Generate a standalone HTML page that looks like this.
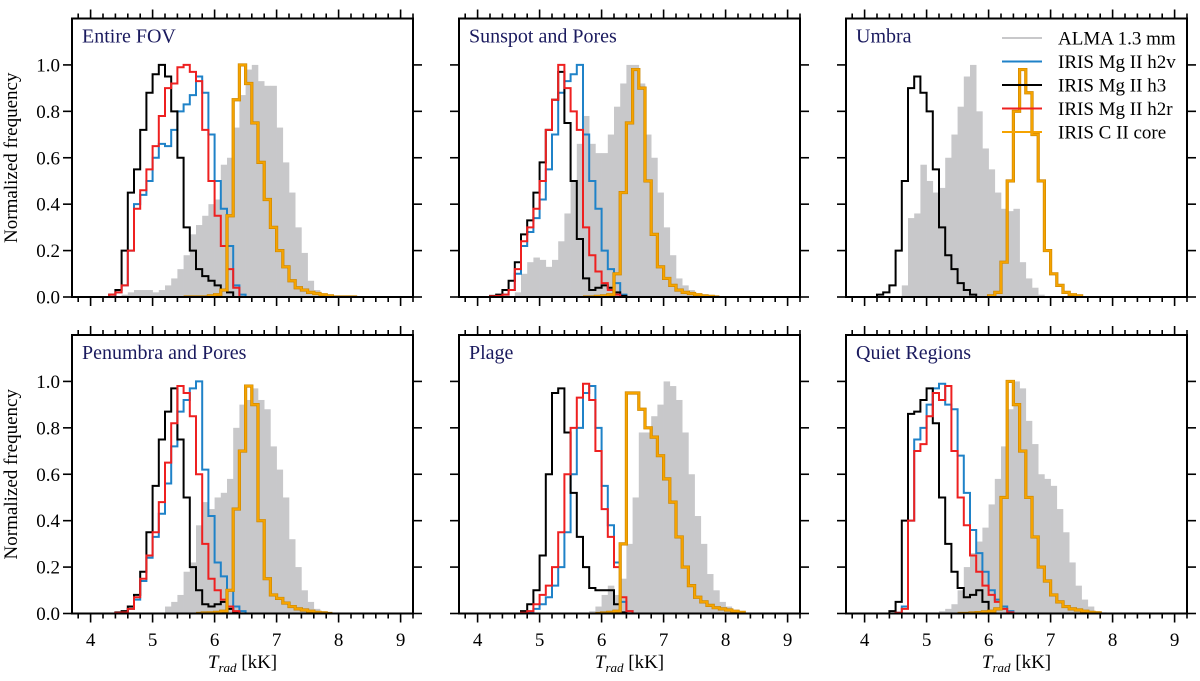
<!DOCTYPE html>
<html><head><meta charset="utf-8"><style>
html,body{margin:0;padding:0;background:#fff;}
svg{display:block;}
svg text{font-family:"Liberation Serif","DejaVu Serif",serif;}
</style></head><body>
<svg id="chart" width="1200" height="681" viewBox="0 0 1200 681" xmlns="http://www.w3.org/2000/svg" font-family="'Liberation Serif', serif"></svg>
<script>
// ---- data (bin width 0.1 kK; each series starts at its *Start value) ----
const binWidth = 0.1;
const panelTitles = ["Entire FOV","Sunspot and Pores","Umbra","Penumbra and Pores","Plage","Quiet Regions"];
const xTickLabels = ["4","5","6","7","8","9"];
const yTickLabels = ["0.0","0.2","0.4","0.6","0.8","1.0"];
const legendLabels = ["ALMA 1.3 mm","IRIS Mg II h2v","IRIS Mg II h3","IRIS Mg II h2r","IRIS C II core"];

// Panel 1: Entire FOV
const fovAlmaStart = 4.5;
const fovAlma = [0.01,0.02,0.03,0.03,0.03,0.02,0.03,0.05,0.08,0.12,0.18,0.27,0.31,0.35,0.4,0.42,0.57,0.6,0.73,0.87,0.98,1.0,0.93,0.91,0.91,0.73,0.58,0.45,0.3,0.19,0.07,0.03,0.01,0.005];
const fovH2vStart = 4.3;
const fovH2v = [0.0,0.02,0.05,0.2,0.4,0.44,0.5,0.6,0.66,0.65,0.72,0.8,0.83,0.87,0.95,0.88,0.7,0.5,0.38,0.22,0.05,0.01];
const fovH3Start = 4.3;
const fovH3 = [0.01,0.03,0.2,0.45,0.55,0.72,0.88,0.96,1.0,0.95,0.8,0.6,0.3,0.2,0.12,0.09,0.07,0.05,0.03,0.02];
const fovH2rStart = 4.3;
const fovH2r = [0.01,0.02,0.05,0.2,0.38,0.46,0.55,0.65,0.78,0.9,0.92,0.99,1.0,0.97,0.93,0.72,0.5,0.35,0.22,0.12,0.04];
const fovCiiStart = 5.5;
const fovCii = [0,0,0,0,0.005,0.01,0.03,0.35,0.85,1.0,0.92,0.75,0.58,0.42,0.3,0.2,0.13,0.07,0.04,0.03,0.02,0.015,0.01,0.005,0,0,0,0];

// Panel 2: Sunspot and Pores
const spotAlmaStart = 4.6;
const spotAlma = [0.02,0.1,0.15,0.17,0.16,0.13,0.16,0.24,0.36,0.5,0.66,0.78,0.66,0.62,0.62,0.7,0.82,0.92,1.0,1.0,0.92,0.7,0.6,0.45,0.3,0.18,0.08,0.05,0.03,0.015,0.005];
const spotH2vStart = 4.2;
const spotH2v = [0.003,0.005,0.01,0.03,0.1,0.22,0.28,0.34,0.42,0.55,0.7,0.88,0.93,0.96,1.0,0.7,0.5,0.38,0.2,0.12,0.06,0.01];
const spotH3Start = 4.2;
const spotH3 = [0.005,0.01,0.03,0.07,0.15,0.27,0.33,0.45,0.58,0.72,0.85,0.97,0.75,0.5,0.25,0.08,0.03,0.04,0.05,0.04,0.02,0.005];
const spotH2rStart = 4.2;
const spotH2r = [0.003,0.005,0.01,0.03,0.12,0.24,0.3,0.38,0.5,0.72,0.85,1.0,0.9,0.8,0.72,0.3,0.18,0.11,0.06,0.03,0.01];
const spotCiiStart = 5.7;
const spotCii = [0,0,0.003,0.005,0.01,0.1,0.45,0.75,0.98,0.9,0.5,0.27,0.13,0.08,0.05,0.03,0.02,0.015,0.01,0.005,0.003,0];

// Panel 3: Umbra
const umbraAlmaStart = 4.6;
const umbraAlma = [0.05,0.34,0.36,0.57,0.5,0.45,0.47,0.6,0.7,0.82,0.95,1.0,0.8,0.64,0.55,0.45,0.38,0.37,0.38,0.15,0.08,0.04,0.01];
const umbraH3Start = 4.2;
const umbraH3 = [0.01,0.02,0.05,0.2,0.5,0.9,0.95,0.88,0.8,0.55,0.3,0.18,0.12,0.06,0.03,0.01];
const umbraCiiStart = 6.0;
const umbraCii = [0.005,0.02,0.15,0.5,0.8,0.98,0.88,0.7,0.5,0.2,0.1,0.05,0.02,0.01,0.005];

// Panel 4: Penumbra and Pores
const penAlmaStart = 5.2;
const penAlma = [0.03,0.05,0.08,0.18,0.22,0.38,0.48,0.45,0.5,0.52,0.58,0.8,0.9,0.92,0.97,0.92,0.88,0.72,0.62,0.5,0.32,0.2,0.1,0.05,0.02,0.01];
const penH2vStart = 4.4;
const penH2v = [0.003,0.005,0.02,0.06,0.14,0.24,0.33,0.43,0.56,0.72,0.87,0.92,0.97,1.0,0.62,0.42,0.22,0.16,0.1,0.03,0.01];
const penH3Start = 4.4;
const penH3 = [0.005,0.01,0.03,0.08,0.18,0.35,0.55,0.75,0.87,0.97,0.75,0.5,0.2,0.1,0.04,0.03,0.04,0.05,0.02,0.005];
const penH2rStart = 4.4;
const penH2r = [0.003,0.005,0.02,0.07,0.15,0.25,0.35,0.48,0.65,0.82,0.98,0.95,0.85,0.6,0.3,0.15,0.1,0.06,0.03,0.01];
const penCiiStart = 5.7;
const penCii = [0,0.002,0.003,0.005,0.01,0.1,0.45,0.7,0.98,0.9,0.4,0.15,0.08,0.065,0.045,0.03,0.02,0.015,0.01,0.005,0.003,0];

// Panel 5: Plage
const plageAlmaStart = 5.8;
const plageAlma = [0.01,0.03,0.08,0.12,0.08,0.15,0.3,0.5,0.78,0.78,0.85,0.9,1.0,0.98,0.92,0.78,0.6,0.42,0.3,0.17,0.1,0.05,0.03,0.015,0.005];
const plageH2vStart = 4.7;
const plageH2v = [0.002,0.005,0.02,0.04,0.07,0.12,0.2,0.35,0.6,0.8,0.95,0.98,0.8,0.55,0.38,0.22,0.05,0.01];
const plageH3Start = 4.7;
const plageH3 = [0.01,0.04,0.1,0.25,0.6,0.95,0.97,0.78,0.52,0.33,0.2,0.11,0.1,0.1,0.1,0.04,0.005];
const plageH2rStart = 4.7;
const plageH2r = [0.003,0.01,0.04,0.08,0.12,0.2,0.35,0.6,0.8,0.93,0.99,0.92,0.7,0.45,0.33,0.2,0.07,0.01];
const plageCiiStart = 5.9;
const plageCii = [0,0.002,0.005,0.01,0.3,0.95,0.95,0.88,0.8,0.76,0.68,0.58,0.48,0.33,0.2,0.12,0.07,0.05,0.035,0.025,0.02,0.015,0.01,0.005];

// Panel 6: Quiet Regions
const quietAlmaStart = 5.2;
const quietAlma = [0.01,0.02,0.04,0.1,0.2,0.26,0.31,0.37,0.47,0.58,0.72,0.88,1.0,0.97,0.83,0.73,0.6,0.58,0.55,0.45,0.35,0.22,0.12,0.06,0.03,0.01,0.005];
const quietH2vStart = 4.4;
const quietH2v = [0,0.003,0.03,0.4,0.75,0.8,0.9,0.97,0.99,0.9,0.88,0.68,0.52,0.36,0.26,0.18,0.1,0.06,0.03,0.01];
const quietH3Start = 4.4;
const quietH3 = [0.01,0.05,0.4,0.86,0.87,0.92,0.97,0.82,0.5,0.3,0.18,0.11,0.07,0.08,0.1,0.05,0.01];
const quietH2rStart = 4.4;
const quietH2r = [0,0.003,0.02,0.4,0.7,0.73,0.85,0.95,0.92,0.98,0.7,0.5,0.38,0.25,0.18,0.12,0.08,0.05,0.02,0.005];
const quietCiiStart = 5.5;
const quietCii = [0,0,0.002,0.004,0.007,0.01,0.02,0.5,1.0,0.9,0.7,0.5,0.33,0.2,0.14,0.08,0.05,0.03,0.02,0.015,0.01,0.005,0.003];

// ---- layout ----
const NS = "http://www.w3.org/2000/svg";
const svg = document.getElementById('chart');
const FONT = "'Liberation Serif', 'DejaVu Serif', serif";
const xMin = 3.7, xMax = 9.2, yMin = 0, yMax = 1.2;
const colLeft = [72, 459, 846], panelW = 341;
const rowTop = [18.5, 335], panelH = 278.5;
const colors = {alma:"#c8c8ca", h2v:"#1f82c8", h3:"#000000", h2r:"#ee2020", cii:"#f5a300"};

function mk(tag, attrs, parent){
  const e = document.createElementNS(NS, tag);
  for (const k in attrs) e.setAttribute(k, attrs[k]);
  if (tag === 'text') e.setAttribute('font-family', FONT);
  (parent || svg).appendChild(e);
  return e;
}

const panels = [
  {alma:[fovAlmaStart,fovAlma], h2v:[fovH2vStart,fovH2v], h3:[fovH3Start,fovH3], h2r:[fovH2rStart,fovH2r], cii:[fovCiiStart,fovCii]},
  {alma:[spotAlmaStart,spotAlma], h2v:[spotH2vStart,spotH2v], h3:[spotH3Start,spotH3], h2r:[spotH2rStart,spotH2r], cii:[spotCiiStart,spotCii]},
  {alma:[umbraAlmaStart,umbraAlma], h3:[umbraH3Start,umbraH3], cii:[umbraCiiStart,umbraCii]},
  {alma:[penAlmaStart,penAlma], h2v:[penH2vStart,penH2v], h3:[penH3Start,penH3], h2r:[penH2rStart,penH2r], cii:[penCiiStart,penCii]},
  {alma:[plageAlmaStart,plageAlma], h2v:[plageH2vStart,plageH2v], h3:[plageH3Start,plageH3], h2r:[plageH2rStart,plageH2r], cii:[plageCiiStart,plageCii]},
  {alma:[quietAlmaStart,quietAlma], h2v:[quietH2vStart,quietH2v], h3:[quietH3Start,quietH3], h2r:[quietH2rStart,quietH2r], cii:[quietCiiStart,quietCii]}
];

panels.forEach((p, idx) => {
  const col = idx % 3, row = Math.floor(idx / 3);
  const L = colLeft[col], T = rowTop[row], R = L + panelW, B = T + panelH;
  const xs = v => L + (v - xMin) / (xMax - xMin) * panelW;
  const ys = v => B - (v - yMin) / (yMax - yMin) * panelH;
  const g = mk('g', {});
  
  
  const clipId = 'clip' + idx;
  const cp = mk('clipPath', {id: clipId}, g);
  mk('rect', {x: L, y: T, width: panelW, height: panelH}, cp);
  const plot = mk('g', {'clip-path': 'url(#' + clipId + ')'}, g);

  // ALMA bars
  const [as, av] = p.alma;
  av.forEach((v, i) => {
    const x0 = xs(as + i * binWidth), x1 = xs(as + (i + 1) * binWidth);
    const r = mk('rect', {x: x0, y: ys(v), width: x1 - x0 + 0.3, height: ys(0) - ys(v), fill: colors.alma}, plot);
    
    
  });
  // step lines
  ['h2v','h3','h2r','cii'].forEach(key => {
    if (!p[key]) return;
    const [s, vals] = p[key];
    let d = 'M' + xs(s) + ',' + ys(0);
    vals.forEach((v, i) => {
      d += ' L' + xs(s + i * binWidth) + ',' + ys(v) + ' L' + xs(s + (i + 1) * binWidth) + ',' + ys(v);
    });
    d += ' L' + xs(s + vals.length * binWidth) + ',' + ys(0);
    if (key === 'cii') {
      mk('path', {d: d, fill: 'none', stroke: '#c98400', 'stroke-width': 3.2, 'stroke-linejoin': 'miter'}, plot);
    }
    const path = mk('path', {d: d, fill: 'none', stroke: colors[key], 'stroke-width': 2, 'stroke-linejoin': 'miter'}, plot);
    
    
  });

  // frame
  const fr = mk('rect', {x: L, y: T, width: panelW, height: panelH, fill: 'none', stroke: '#000', 'stroke-width': 2}, g);
  
  

  // x ticks (top & bottom, outward)
  for (let k = 0; k <= 30; k++) {
    const t = 3.8 + k * 0.2;
    if (t > xMax + 1e-6) break;
    const major = Math.abs(t - Math.round(t)) < 1e-6;
    const len = major ? 9 : 5;
    const x = xs(t);
    mk('line', {x1: x, x2: x, y1: B, y2: B + len, stroke: '#000', 'stroke-width': 1.6}, g);
    mk('line', {x1: x, x2: x, y1: T, y2: T - len, stroke: '#000', 'stroke-width': 1.6}, g);
  }
  // y ticks (left & right, outward)
  yTickLabels.forEach((lab, i) => {
    const v = i * 0.2, y = ys(v);
    mk('line', {x1: L - 9, x2: L, y1: y, y2: y, stroke: '#000', 'stroke-width': 1.6}, g);
    mk('line', {x1: R, x2: R + 9, y1: y, y2: y, stroke: '#000', 'stroke-width': 1.6}, g);
    if (col === 0) {
      const tx = mk('text', {x: L - 12, y: y + 6.5, 'font-size': 19, 'text-anchor': 'end', fill: '#000'}, g);
      tx.textContent = lab;
      
      
    }
  });
  if (row === 1) {
    xTickLabels.forEach(lab => {
      const tx = mk('text', {x: xs(parseFloat(lab)), y: 646, 'font-size': 19, 'text-anchor': 'middle', fill: '#000'}, g);
      tx.textContent = lab;
      
      
    });
    const xt = mk('text', {x: (L + R) / 2, y: 668, 'font-size': 19, 'text-anchor': 'middle', fill: '#000'}, g);
    
    
    const t1 = mk('tspan', {'font-style': 'italic'}, xt); t1.textContent = 'T';
    const t2 = mk('tspan', {'font-style': 'italic', 'font-size': 13, dy: 4}, xt); t2.textContent = 'rad';
    const t3 = mk('tspan', {dy: -4}, xt); t3.textContent = ' [kK]';
  }
  if (col === 0) {
    const cy = (T + B) / 2;
    const yt = mk('text', {x: 17, y: cy, 'font-size': 19, 'text-anchor': 'middle', fill: '#000', transform: 'rotate(-90 17 ' + cy + ')'}, g);
    yt.textContent = 'Normalized frequency';
    
    
  }
  const ti = mk('text', {x: L + 10, y: T + 24, 'font-size': 20, fill: '#1a1a5e'}, g);
  ti.textContent = panelTitles[idx];
  
  
});

// legend in Umbra panel
const legKeys = ['alma','h2v','h3','h2r','cii'];
const legG = mk('g', {});


legKeys.forEach((k, i) => {
  const y = 38 + i * 23.5;
  const ln = mk('line', {x1: 1002, x2: 1042, y1: y, y2: y, stroke: k === 'alma' ? '#c8c8ca' : colors[k], 'stroke-width': 2}, legG);
  
  
  const tx = mk('text', {x: 1058, y: y + 6.5, 'font-size': 19, fill: '#000'}, legG);
  tx.textContent = legendLabels[i];
  
  
});
</script>
</body></html>
